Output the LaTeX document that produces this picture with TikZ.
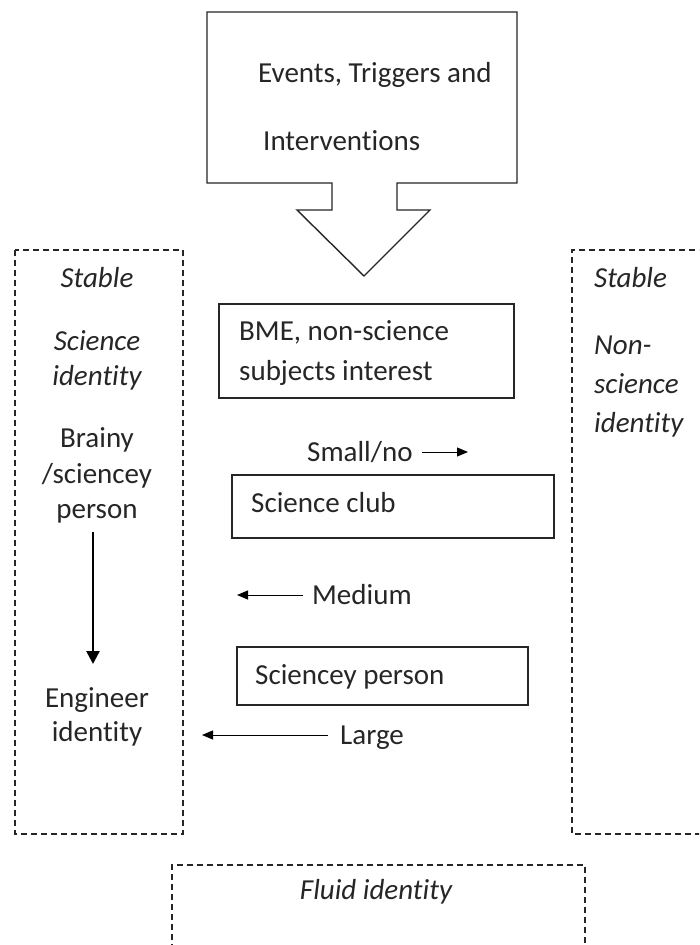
\documentclass[tikz,border=0pt]{standalone}
\usepackage{fontspec}
\setmainfont{Carlito}[Ligatures=CommonOff]
\usetikzlibrary{arrows.meta}
\begin{document}
\begin{tikzpicture}[x=1pt,y=-1pt,
  txt/.style={inner sep=0pt, text=black!85, text height=20pt, text depth=6pt, font=\fontsize{29}{35}\selectfont},
  itxt/.style={txt, font=\fontsize{29}{35}\selectfont\itshape},
  sbox/.style={draw=black!85, line width=1.4pt},
  dbox/.style={draw=black!85, line width=1.3pt, dash pattern=on 6pt off 4pt},
  harr/.style={-{Triangle[length=11pt,width=9pt]}, line width=1pt, black},
  varr/.style={-{Triangle[length=13pt,width=13pt]}, line width=2.6pt, black}]
\useasboundingbox (0,0) rectangle (699,945);
\clip (0,0) rectangle (699,945);
\fill[white] (0,0) rectangle (699,945);

% top callout arrow
\draw[sbox, line join=miter] (207,12) -- (517,12) -- (517,183) -- (397,183) -- (397,210) -- (430,210)
  -- (364,276) -- (297,210) -- (332,210) -- (332,183) -- (207,183) -- cycle;
\node[txt, anchor=west] (ev1) at (258,75) {Events, Triggers and};
\node[txt, anchor=west] (ev2) at (263,143) {Interventions};

% left dashed box
\draw[dbox] (15,250) rectangle (183,834);
\node[itxt] (ls1) at (97,280) {Stable};
\node[itxt] (ls2) at (97,343) {Science};
\node[itxt] (ls3) at (97,378) {identity};
\node[txt] (lb1) at (97,440) {Brainy};
\node[txt] (lb2) at (97,476) {/sciencey};
\node[txt] (lb3) at (97,511) {person};
\node[txt] (le1) at (97,700) {Engineer};
\node[txt] (le2) at (97,734) {identity};
\coordinate (va) at (93,532);
\coordinate (vb) at (93,664);
\draw[varr] (va) -- (vb);

% right dashed box
\draw[dbox] (705,250) -- (572,250) -- (572,834) -- (705,834);
\node[itxt, anchor=west] (rs1) at (594,280) {Stable};
\node[itxt, anchor=west] (rs2) at (594,347) {Non-};
\node[itxt, anchor=west] (rs3) at (594,386) {science};
\node[itxt, anchor=west] (rs4) at (594,425) {identity};

% bottom dashed box
\draw[dbox] (172,960) -- (172,865) -- (585,865) -- (585,960);
\node[itxt] (fl) at (376,892) {Fluid identity};

% middle boxes
\draw[sbox] (219,304) rectangle (514,398);
\node[txt, anchor=west] (bme1) at (239,333) {BME, non-science};
\node[txt, anchor=west] (bme2) at (239,373) {subjects interest};

\draw[sbox] (232,475) rectangle (554,538);
\node[txt, anchor=west] (club) at (251,505) {Science club};

\draw[sbox] (237,647) rectangle (528,705);
\node[txt, anchor=west] (scp) at (255,677) {Sciencey person};

% labelled arrows
\node[txt, anchor=west] (small) at (307,454) {Small/no};
\coordinate (sa) at (422,452);
\coordinate (sb) at (468,452);
\draw[harr] (sa) -- (sb);

\node[txt, anchor=west] (med) at (312,597) {Medium};
\coordinate (ma) at (303,595);
\coordinate (mb) at (237,595);
\draw[harr] (ma) -- (mb);

\node[txt, anchor=west] (large) at (340,737) {Large};
\coordinate (la) at (328,735);
\coordinate (lb) at (202,735);
\draw[harr] (la) -- (lb);
\end{tikzpicture}
\end{document}
